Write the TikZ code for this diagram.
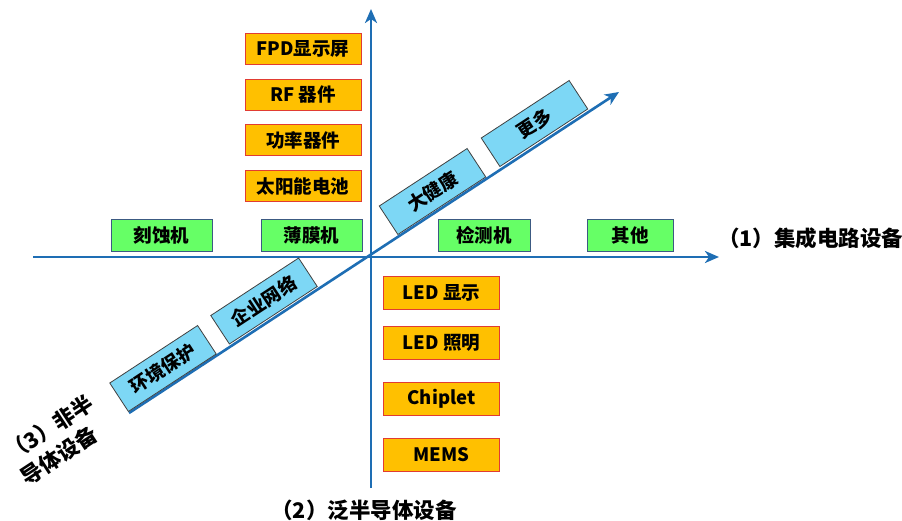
\documentclass[tikz,border=0pt]{standalone}
\usepackage{fontspec}
\setmainfont{Noto Sans CJK SC}
\usetikzlibrary{arrows.meta}
\definecolor{axisblue}{RGB}{30,110,180}
\definecolor{boxorange}{RGB}{255,192,0}
\definecolor{boxred}{RGB}{225,60,50}
\definecolor{boxgreen}{RGB}{102,255,102}
\definecolor{greenedge}{RGB}{60,90,130}
\definecolor{boxblue}{RGB}{125,215,245}
\begin{document}
\begin{tikzpicture}
	[x = 1pt, y = -1pt,
	axis/.style={-{Stealth[length=14pt, width=12pt, inset=4pt]}, axisblue, line width=2.6pt},
	label/.style={font=\bfseries\fontsize{18.5}{22}\selectfont, inner sep=0pt},
	axislabel/.style={font=\bfseries\fontsize{21.5}{29}\selectfont, inner sep=0pt},
	orangebox/.style={label, draw=boxred, fill=boxorange, line width=0.8pt, minimum width=116pt, minimum height=31pt},
	greenbox/.style={label, draw=greenedge, fill=boxgreen, line width=0.8pt, minimum height=32pt},
	bluebox/.style={label, draw=black!75, fill=boxblue, line width=0.8pt, minimum width=105pt, minimum height=34pt, rotate=33.2}]
	
	\useasboundingbox (0, 0) rectangle (902, 521);
	
	% Draw main axes
	\coordinate (O) at (371, 257);
	\coordinate (Xstart) at (33, 257);
	\coordinate (Xend) at (719, 257);
	\coordinate (Ystart) at (371, 488);
	\coordinate (Yend) at (371, 9);
	\coordinate (Dstart) at (129, 413);
	\coordinate (Dend) at (619, 92);
	\draw[axis] (Xstart) -- (Xend);
	\draw[axis] (Ystart) -- (Yend);
	\draw[axis] (Dstart) -- (Dend);
	
	% Draw axis labels
	\node[axislabel, anchor=west] (IC) at (718, 238) {（1）集成电路设备};
	\node[axislabel] (PAN) at (364, 510) {（2）泛半导体设备};
	\node[axislabel, align=left, rotate=33.2] (NON) at (57, 440) {（3）非半\\导体设备};
	
	% Draw upper boxes
	\node[orangebox] (FPD) at (303, 49) {FPD显示屏};
	\node[orangebox] (RF) at (303, 95) {RF 器件};
	\node[orangebox] (POW) at (303, 140) {功率器件};
	\node[orangebox] (SOL) at (303, 186) {太阳能电池};
	
	% Draw lower boxes
	\node[orangebox, minimum height=33pt] (LEDD) at (441.5, 292.5) {LED 显示};
	\node[orangebox, minimum height=33pt] (LEDL) at (441.5, 342.5) {LED 照明};
	\node[orangebox, minimum height=33pt] (CHIP) at (441.5, 399) {Chiplet};
	\node[orangebox, minimum height=33pt] (MEMS) at (441.5, 455) {MEMS};
	
	% Draw boxes on horizontal axis
	\node[greenbox, minimum width=101pt] (ETCH) at (161.5, 235.5) {刻蚀机};
	\node[greenbox, minimum width=101pt] (FILM) at (311.5, 235.5) {薄膜机};
	\node[greenbox, minimum width=92pt] (TEST) at (484, 235.5) {检测机};
	\node[greenbox, minimum width=86pt] (OTHER) at (630, 235.5) {其他};
	
	% Draw boxes on diagonal axis
	\node[bluebox] (HEALTH) at (432.5, 191.5) {大健康};
	\node[bluebox] (MORE) at (534.5, 123.5) {更多};
	\node[bluebox] (NET) at (264, 301) {企业网络};
	\node[bluebox] (ENV) at (163, 368.5) {环境保护};
	
\end{tikzpicture}
\end{document}
